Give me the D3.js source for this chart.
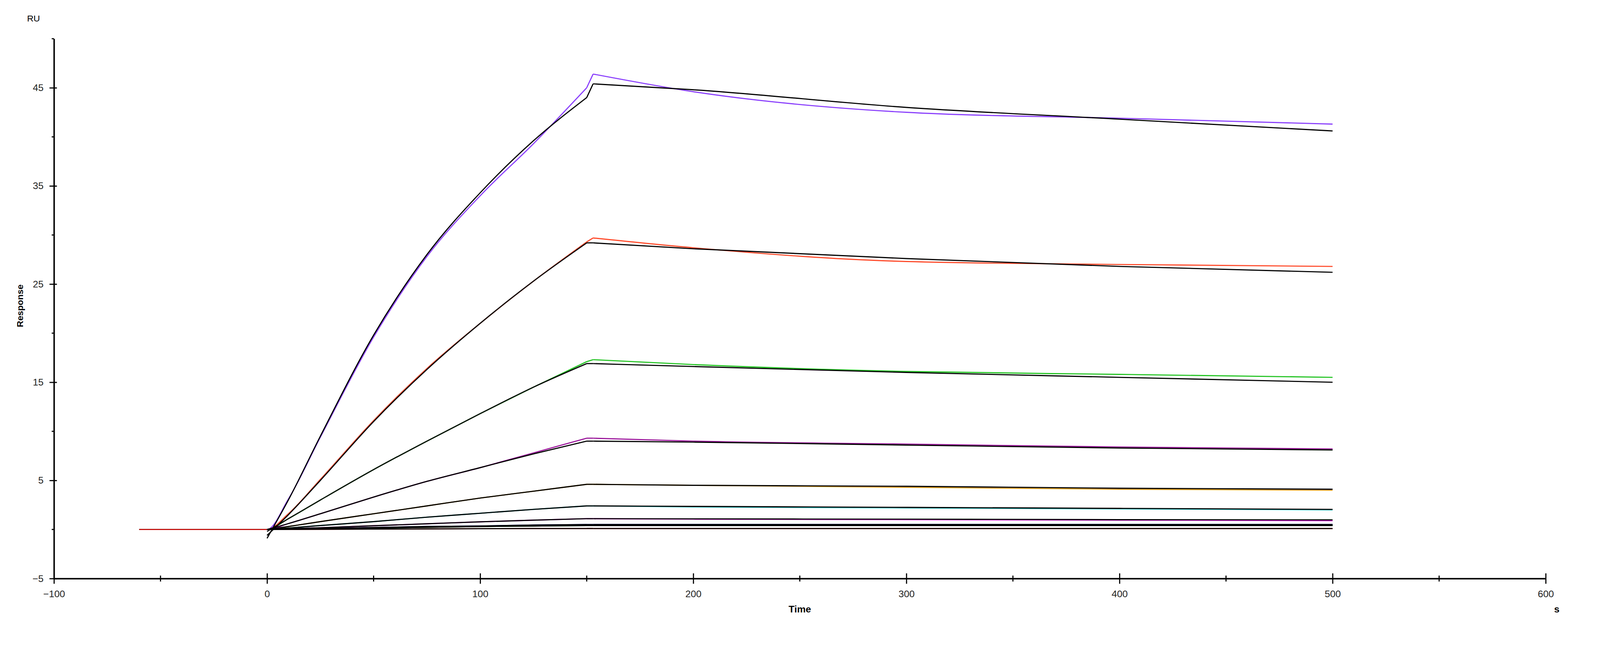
<!DOCTYPE html>
<html>
<head>
<meta charset="utf-8">
<script src="https://cdn.jsdelivr.net/npm/d3@7"></script>
<style>
  html, body { margin: 0; background: #fff; overflow: hidden; }
  svg { display: block; width: 100vw; height: 100vh; }
  text { font-family: "Liberation Sans", Arial, sans-serif; }
</style>
</head>
<body>
<div id="viz"></div>
<script>
// sample times (s); injection ends at 150 s
const times = [-60, -30, 0, 10, 25, 50, 75, 100, 125, 150, 153, 200, 300, 400, 500];

// measured curves (coloured) and fitted curves (black), RU
const seriesColors = ['#8a3ffc', '#ff4a2a', '#22c322', '#9b169b', '#e0a020', '#16c8c8', '#e020e0', '#1020c0', '#0a6a0a', '#d01010'];
const dataValues = [
  [0, 0, 0, 3.1, 9.4, 19.6, 27.8, 34.0, 39.3, 45.0, 46.4, 44.6, 42.5, 41.9, 41.3],
  [0, 0, 0, 1.6, 5.1, 11.1, 16.4, 21.0, 25.3, 29.3, 29.7, 28.7, 27.3, 27.0, 26.8],
  [0, 0, 0, 1.1, 3.0, 6.1, 9.0, 11.8, 14.5, 17.1, 17.3, 16.8, 16.1, 15.8, 15.5],
  [0, 0, 0, 0.6, 1.6, 3.3, 4.9, 6.3, 7.8, 9.3, 9.3, 9.0, 8.7, 8.4, 8.2],
  [0, 0, 0, 0.3, 0.8, 1.6, 2.4, 3.2, 3.9, 4.6, 4.6, 4.5, 4.3, 4.1, 4.0],
  [0, 0, 0, 0.15, 0.4, 0.8, 1.25, 1.65, 2.05, 2.4, 2.4, 2.3, 2.2, 2.1, 2.0],
  [0, 0, 0, 0.07, 0.18, 0.38, 0.58, 0.78, 0.95, 1.1, 1.1, 1.05, 1.0, 0.95, 0.9],
  [0, 0, 0, 0.04, 0.1, 0.2, 0.3, 0.35, 0.45, 0.5, 0.5, 0.5, 0.5, 0.5, 0.5],
  [0, 0, 0, 0.03, 0.08, 0.15, 0.22, 0.3, 0.35, 0.4, 0.4, 0.4, 0.4, 0.4, 0.4],
  [0, 0, 0, 0.01, 0.02, 0.04, 0.06, 0.08, 0.1, 0.1, 0.1, 0.1, 0.1, 0.1, 0.1]
];
const fitValues = [
  [null, null, -0.9, 3.0, 9.5, 19.8, 28.0, 34.3, 39.6, 44.0, 45.4, 44.8, 43.0, 41.8, 40.6],
  [null, null, -0.6, 1.5, 5.0, 11.0, 16.3, 21.0, 25.3, 29.2, 29.2, 28.6, 27.6, 26.8, 26.2],
  [null, null, -0.2, 1.1, 3.0, 6.1, 9.0, 11.8, 14.5, 16.9, 16.9, 16.6, 16.0, 15.5, 15.0],
  [null, null, 0, 0.6, 1.6, 3.3, 4.9, 6.3, 7.7, 9.0, 9.0, 8.9, 8.6, 8.3, 8.1],
  [null, null, 0, 0.3, 0.8, 1.6, 2.4, 3.2, 3.9, 4.6, 4.6, 4.5, 4.4, 4.2, 4.1],
  [null, null, 0, 0.15, 0.4, 0.8, 1.25, 1.65, 2.05, 2.4, 2.4, 2.35, 2.25, 2.15, 2.05],
  [null, null, 0, 0.07, 0.18, 0.38, 0.58, 0.78, 0.95, 1.1, 1.1, 1.08, 1.05, 1.0, 0.98],
  [null, null, 0, 0.04, 0.1, 0.2, 0.3, 0.35, 0.45, 0.5, 0.5, 0.5, 0.5, 0.5, 0.5],
  [null, null, 0, 0.03, 0.08, 0.15, 0.22, 0.3, 0.35, 0.4, 0.4, 0.4, 0.4, 0.4, 0.4],
  [null, null, 0, 0.01, 0.02, 0.04, 0.06, 0.08, 0.1, 0.1, 0.1, 0.1, 0.1, 0.1, 0.1]
];
const xTicks = [-100, 0, 100, 200, 300, 400, 500, 600];
const yTicks = [-5, 5, 15, 25, 35, 45];

const width = 4300, height = 1700,
  margin = { top: 104, right: 146, bottom: 145, left: 145 };

const svg = d3.select('#viz').append('svg')
  .attr('viewBox', '0 0 ' + width + ' ' + height)
  .attr('preserveAspectRatio', 'xMinYMin meet');

const x = d3.scaleLinear().domain([-100, 600]).range([margin.left, width - margin.right]);
const y = d3.scaleLinear().domain([-5, 50]).range([height - margin.bottom, margin.top]);

const smooth = d3.line()
  .defined(d => d[1] !== null)
  .x(d => x(d[0]))
  .y(d => y(d[1]))
  .curve(d3.curveMonotoneX);
const straight = d3.line()
  .x(d => x(d[0]))
  .y(d => y(d[1]));

// association (to 150 s), jump, dissociation drawn as separate pieces
function drawCurve(g, vals, color) {
  const pts = times.map((t, j) => [t, vals[j]]);
  const iEnd = times.indexOf(150);
  [smooth(pts.slice(0, iEnd + 1)), straight(pts.slice(iEnd, iEnd + 2)), smooth(pts.slice(iEnd + 1))]
    .forEach(d => {
      g.append('path')
        .attr('d', d)
        .attr('fill', 'none')
        .attr('stroke', color)
        .attr('stroke-width', 3);
    });
}

const plot = svg.append('g');
dataValues.forEach((vals, i) => drawCurve(plot, vals, seriesColors[i]));
fitValues.forEach(vals => drawCurve(plot, vals, '#000'));

// axes
const xAxis = svg.append('g')
  .attr('transform', 'translate(0,' + y(-5) + ')')
  .call(d3.axisBottom(x).tickValues(xTicks).tickSize(0).tickPadding(32).tickFormat(d3.format('d')));
xAxis.selectAll('.tick').append('line').attr('y1', -14).attr('y2', 14).attr('stroke', '#000').attr('stroke-width', 3);
xAxis.selectAll('.minor').data(d3.range(-50, 600, 100)).enter().append('line')
  .attr('x1', d => x(d)).attr('x2', d => x(d)).attr('y1', -8).attr('y2', 8)
  .attr('stroke', '#000').attr('stroke-width', 3);

const yAxis = svg.append('g')
  .attr('transform', 'translate(' + x(-100) + ',0)')
  .call(d3.axisLeft(y).tickValues(yTicks).tickSize(0).tickPadding(28).tickFormat(d3.format('d')));
yAxis.selectAll('.tick').append('line').attr('x1', -12).attr('x2', 8).attr('stroke', '#000').attr('stroke-width', 3);
yAxis.selectAll('.minor').data(d3.range(0, 51, 10)).enter().append('line')
  .attr('x1', -6).attr('x2', 0).attr('y1', d => y(d)).attr('y2', d => y(d))
  .attr('stroke', '#000').attr('stroke-width', 3);

svg.selectAll('.domain').attr('stroke', '#000').attr('stroke-width', 4);
svg.selectAll('.tick text').attr('font-size', 26).attr('fill', '#222');

svg.append('text').attr('x', 90).attr('y', 58).attr('text-anchor', 'middle')
  .attr('font-size', 24).text('RU');
svg.append('text').attr('transform', 'translate(62,' + (height / 2 - 28) + ') rotate(-90)')
  .attr('text-anchor', 'middle').attr('font-size', 24).attr('font-weight', 'bold').text('Response');
svg.append('text').attr('x', x(250)).attr('y', 1646).attr('text-anchor', 'middle')
  .attr('font-size', 26).attr('font-weight', 'bold').text('Time');
svg.append('text').attr('x', 4184).attr('y', 1646).attr('text-anchor', 'middle')
  .attr('font-size', 26).attr('font-weight', 'bold').text('s');
</script>
</body>
</html>
